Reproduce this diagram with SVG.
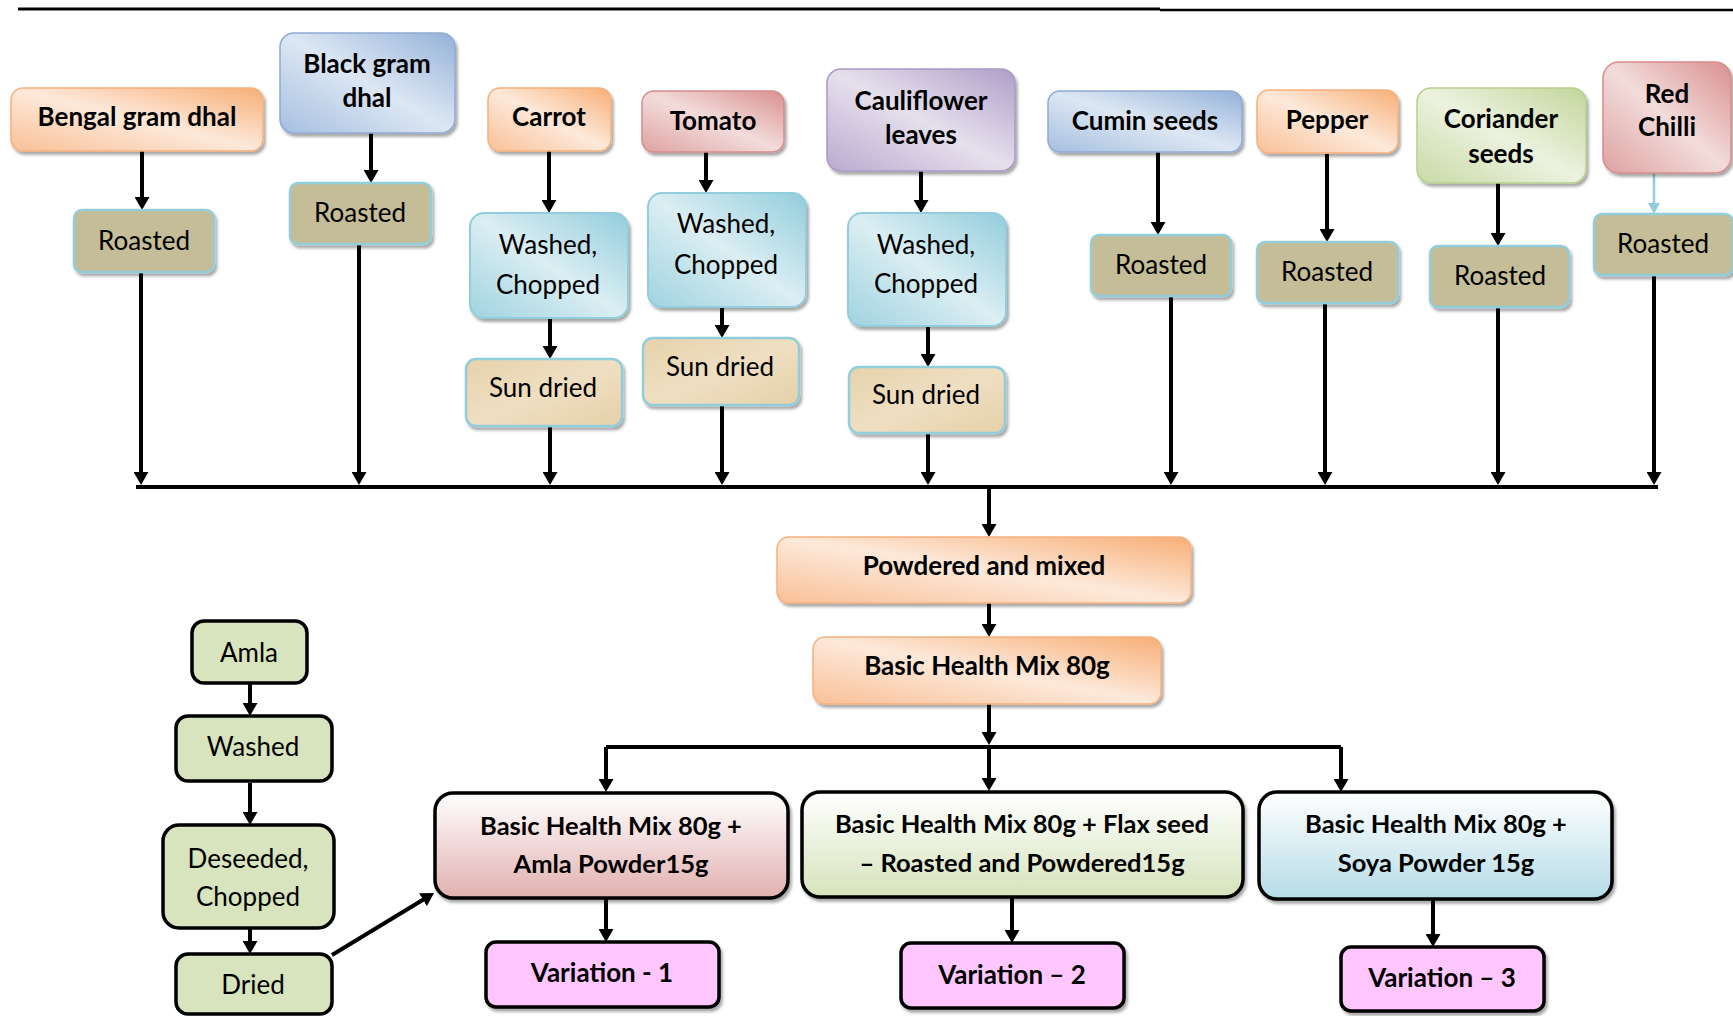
<svg xmlns="http://www.w3.org/2000/svg" width="1733" height="1016" viewBox="0 0 1733 1016">
<defs>
<style>
.t{font-family:Lato,'Open Sans','Liberation Sans',sans-serif;fill:#000;text-anchor:middle}
.b{font-weight:700;font-size:26px}
.bv{font-weight:700;font-size:25.5px}
.r{font-weight:400;font-size:26px}
.sh{filter:url(#shadow)}
.roast{fill:#c4bd97;stroke:#92cddc;stroke-width:2.5}
.sun{fill:url(#gSun);stroke:#92cddc;stroke-width:2.5}
.wash{fill:url(#gAqua);stroke:#92cddc;stroke-width:2}
.orange{fill:url(#gOrange);stroke:#f6b07c;stroke-width:1.5}
.blue{fill:url(#gBlue);stroke:#8eaad4;stroke-width:1.5}
.red{fill:url(#gRed);stroke:#d88c8b;stroke-width:1.5}
.purple{fill:url(#gPurple);stroke:#a999c4;stroke-width:1.5}
.green{fill:url(#gGreen);stroke:#b8cf8e;stroke-width:1.5}
.blk{stroke:#000;stroke-width:3.5}
.amla{fill:#d7e4bd;stroke:#000;stroke-width:3.5}
.var{fill:#ffc6ff;stroke:#000;stroke-width:3.5}
.c{stroke:#000;stroke-width:4;fill:none}
.ca{stroke:#000;stroke-width:4;fill:none;marker-end:url(#arr)}
</style>
<linearGradient id="gOrange" x1="1" y1="0" x2="0" y2="1"><stop offset="0" stop-color="#f7ae76"/><stop offset="0.5" stop-color="#fde9da"/><stop offset="1" stop-color="#f9c097"/></linearGradient>
<linearGradient id="gBlue" x1="1" y1="0" x2="0" y2="1"><stop offset="0" stop-color="#94b2d9"/><stop offset="0.5" stop-color="#dde7f3"/><stop offset="1" stop-color="#a5bfe0"/></linearGradient>
<linearGradient id="gRed" x1="1" y1="0" x2="0" y2="1"><stop offset="0" stop-color="#d9908f"/><stop offset="0.5" stop-color="#f2dcdb"/><stop offset="1" stop-color="#dea2a1"/></linearGradient>
<linearGradient id="gPurple" x1="1" y1="0" x2="0" y2="1"><stop offset="0" stop-color="#af9ec8"/><stop offset="0.5" stop-color="#e6e0ed"/><stop offset="1" stop-color="#baaad0"/></linearGradient>
<linearGradient id="gGreen" x1="1" y1="0" x2="0" y2="1"><stop offset="0" stop-color="#c2d69a"/><stop offset="0.5" stop-color="#ecf2df"/><stop offset="1" stop-color="#c8daa6"/></linearGradient>
<linearGradient id="gAqua" x1="1" y1="0" x2="0" y2="1"><stop offset="0" stop-color="#92cddc"/><stop offset="0.5" stop-color="#dbeef3"/><stop offset="1" stop-color="#9fd3e0"/></linearGradient>
<linearGradient id="gSun" x1="0" y1="0" x2="1" y2="1"><stop offset="0" stop-color="#e6d2ab"/><stop offset="0.5" stop-color="#efdfc2"/><stop offset="1" stop-color="#e5d0a8"/></linearGradient>
<linearGradient id="gPink" x1="0" y1="0" x2="0" y2="1"><stop offset="0" stop-color="#ffffff"/><stop offset="1" stop-color="#e2b0b0"/></linearGradient>
<linearGradient id="gLime" x1="0" y1="0" x2="0" y2="1"><stop offset="0" stop-color="#ffffff"/><stop offset="1" stop-color="#d6e3bb"/></linearGradient>
<linearGradient id="gSky" x1="0" y1="0" x2="0" y2="1"><stop offset="0" stop-color="#ffffff"/><stop offset="1" stop-color="#b5dce7"/></linearGradient>
<filter id="shadow" x="-10%" y="-10%" width="125%" height="130%"><feDropShadow dx="2" dy="3" stdDeviation="1.5" flood-color="#000" flood-opacity="0.35"/></filter>
<marker id="arr" viewBox="0 0 13 15" markerWidth="13" markerHeight="15" refX="3" refY="7.5" orient="auto" markerUnits="userSpaceOnUse"><path d="M0,0 L13,7.5 L0,15 z" fill="#000"/></marker>
<marker id="arrAqua" viewBox="0 0 11 12" markerWidth="11" markerHeight="12" refX="3" refY="6" orient="auto" markerUnits="userSpaceOnUse"><path d="M0,0 L11,6 L0,12 z" fill="#92cddc"/></marker>
</defs>
<rect width="1733" height="1016" fill="#fff"/>
<g id="rule"><line x1="18" y1="9" x2="1160" y2="9" stroke="#000" stroke-width="3"/><line x1="1160" y1="10" x2="1733" y2="10" stroke="#000" stroke-width="2.5"/></g>

<g id="connectors">
<path class="ca" d="M142,151 V200"/>
<path class="ca" d="M371,133 V173"/>
<path class="ca" d="M549,151 V203"/>
<path class="ca" d="M550,318 V349"/>
<path class="ca" d="M706,152 V183"/>
<path class="ca" d="M722,307 V328"/>
<path class="ca" d="M921,171 V203"/>
<path class="ca" d="M928,326 V357"/>
<path class="ca" d="M1158,152 V225"/>
<path class="ca" d="M1327,154 V232"/>
<path class="ca" d="M1498,183 V236"/>
<path d="M1654,173 V206" stroke="#92cddc" stroke-width="2.5" fill="none" marker-end="url(#arrAqua)"/>
<path class="ca" d="M141,272 V475"/>
<path class="ca" d="M359,244 V475"/>
<path class="ca" d="M550,426 V475"/>
<path class="ca" d="M722,405 V475"/>
<path class="ca" d="M928,433 V475"/>
<path class="ca" d="M1171,296 V475"/>
<path class="ca" d="M1325,303 V475"/>
<path class="ca" d="M1498,307 V475"/>
<path class="ca" d="M1654,275 V475"/>
<path class="c" d="M136,487 H1658" stroke-width="4.5"/>
<path class="ca" d="M989,489 V527"/>
<path class="ca" d="M989,603 V627"/>
<path class="ca" d="M989,704 V735"/>
<path class="c" d="M606,747 H1341" stroke-width="3.5"/>
<path class="ca" d="M606,747 V782"/>
<path class="ca" d="M989,747 V781"/>
<path class="ca" d="M1341,747 V782"/>
<path class="ca" d="M606,898 V932"/>
<path class="ca" d="M1012,898 V933"/>
<path class="ca" d="M1433,899 V937"/>
<path class="ca" d="M250,683 V706"/>
<path class="ca" d="M250,783 V815"/>
<path class="ca" d="M250,928 V944"/>
<path class="ca" d="M332,955 L425.5,898.2" stroke-width="3.5"/>
</g>

<g id="bengal"><rect class="orange sh" x="11" y="88" width="252" height="63" rx="12"/><text class="t b" x="137" y="126">Bengal gram dhal</text></g>
<g id="blackgram"><rect class="blue sh" x="280" y="33" width="175" height="100" rx="14"/><text class="t b" x="367" y="73">Black gram</text><text class="t b" x="367" y="107">dhal</text></g>
<g id="carrot"><rect class="orange sh" x="488" y="88" width="123" height="63" rx="12"/><text class="t b" x="549" y="126">Carrot</text></g>
<g id="tomato"><rect class="red sh" x="642" y="91" width="142" height="61" rx="12"/><text class="t b" x="713" y="130">Tomato</text></g>
<g id="cauliflower"><rect class="purple sh" x="827" y="69" width="188" height="102" rx="14"/><text class="t b" x="921" y="110">Cauliflower</text><text class="t b" x="921" y="144">leaves</text></g>
<g id="cumin"><rect class="blue sh" x="1048" y="91" width="194" height="61" rx="12"/><text class="t b" x="1145" y="130">Cumin seeds</text></g>
<g id="pepper"><rect class="orange sh" x="1257" y="90" width="141" height="63" rx="12"/><text class="t b" x="1327" y="129">Pepper</text></g>
<g id="coriander"><rect class="green sh" x="1417" y="88" width="169" height="95" rx="14"/><text class="t b" x="1501" y="128">Coriander</text><text class="t b" x="1501" y="163">seeds</text></g>
<g id="redchilli"><rect class="red sh" x="1603" y="62" width="128" height="111" rx="16"/><text class="t b" x="1667" y="103">Red</text><text class="t b" x="1667" y="136">Chilli</text></g>

<g id="roasted-bengal"><rect class="roast sh" x="74" y="210" width="140" height="62" rx="8"/><text class="t r" x="144" y="250">Roasted</text></g>
<g id="roasted-blackgram"><rect class="roast sh" x="290" y="183" width="141" height="61" rx="8"/><text class="t r" x="360" y="222">Roasted</text></g>
<g id="roasted-cumin"><rect class="roast sh" x="1091" y="235" width="140" height="61" rx="8"/><text class="t r" x="1161" y="274">Roasted</text></g>
<g id="roasted-pepper"><rect class="roast sh" x="1257" y="242" width="141" height="61" rx="8"/><text class="t r" x="1327" y="281">Roasted</text></g>
<g id="roasted-coriander"><rect class="roast sh" x="1430" y="246" width="139" height="61" rx="8"/><text class="t r" x="1500" y="285">Roasted</text></g>
<g id="roasted-redchilli"><rect class="roast sh" x="1594" y="214" width="139" height="61" rx="8"/><text class="t r" x="1663" y="253">Roasted</text></g>

<g id="washed-carrot"><rect class="wash sh" x="470" y="213" width="158" height="105" rx="14"/><text class="t r" x="548" y="254">Washed,</text><text class="t r" x="548" y="294">Chopped</text></g>
<g id="washed-tomato"><rect class="wash sh" x="648" y="193" width="158" height="114" rx="14"/><text class="t r" x="726" y="233">Washed,</text><text class="t r" x="726" y="274">Chopped</text></g>
<g id="washed-cauliflower"><rect class="wash sh" x="848" y="213" width="158" height="113" rx="14"/><text class="t r" x="926" y="254">Washed,</text><text class="t r" x="926" y="293">Chopped</text></g>

<g id="sundried-carrot"><rect class="sun sh" x="466" y="359" width="156" height="67" rx="10"/><text class="t r" x="543" y="397">Sun dried</text></g>
<g id="sundried-tomato"><rect class="sun sh" x="643" y="338" width="156" height="67" rx="10"/><text class="t r" x="720" y="376">Sun dried</text></g>
<g id="sundried-cauliflower"><rect class="sun sh" x="849" y="367" width="156" height="66" rx="10"/><text class="t r" x="926" y="404">Sun dried</text></g>

<g id="powdered"><rect class="orange sh" x="777" y="537" width="414" height="66" rx="12"/><text class="t b" x="984" y="575">Powdered and mixed</text></g>
<g id="basic"><rect class="orange sh" x="813" y="637" width="348" height="67" rx="12"/><text class="t b" x="987" y="675">Basic Health Mix 80g</text></g>

<g id="mix-amla"><rect class="blk sh" fill="url(#gPink)" x="435" y="793" width="353" height="105" rx="18"/><text class="t bv" x="611" y="835">Basic Health Mix 80g +</text><text class="t bv" x="611" y="873">Amla Powder15g</text></g>
<g id="mix-flax"><rect class="blk sh" fill="url(#gLime)" x="802" y="792" width="441" height="105" rx="18"/><text class="t bv" x="1022" y="833">Basic Health Mix 80g + Flax seed</text><text class="t bv" x="1022" y="872">– Roasted and Powdered15g</text></g>
<g id="mix-soya"><rect class="blk sh" fill="url(#gSky)" x="1259" y="792" width="353" height="107" rx="18"/><text class="t bv" x="1436" y="833">Basic Health Mix 80g +</text><text class="t bv" x="1436" y="872">Soya Powder 15g</text></g>

<g id="variation1"><rect class="var sh" x="486" y="942" width="233" height="65" rx="10"/><text class="t b" x="602" y="982">Variation - 1</text></g>
<g id="variation2"><rect class="var sh" x="901" y="943" width="223" height="65" rx="10"/><text class="t b" x="1012" y="984">Variation – 2</text></g>
<g id="variation3"><rect class="var sh" x="1341" y="947" width="203" height="64" rx="10"/><text class="t b" x="1442" y="987">Variation – 3</text></g>

<g id="amla"><rect class="amla" x="192" y="621" width="115" height="62" rx="12"/><text class="t r" x="249" y="662">Amla</text></g>
<g id="amla-washed"><rect class="amla" x="176" y="716" width="156" height="65" rx="12"/><text class="t r" x="253" y="756">Washed</text></g>
<g id="amla-deseeded"><rect class="amla" x="163" y="825" width="171" height="103" rx="16"/><text class="t r" x="248" y="868">Deseeded,</text><text class="t r" x="248" y="906">Chopped</text></g>
<g id="amla-dried"><rect class="amla" x="176" y="954" width="156" height="60" rx="12"/><text class="t r" x="253" y="994">Dried</text></g>
</svg>
